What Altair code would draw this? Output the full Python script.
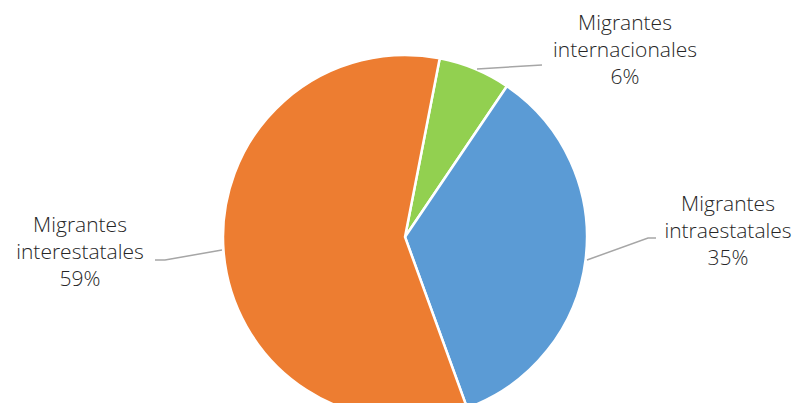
import altair as alt
import pandas as pd

# Data
categories = ["Migrantes internacionales", "Migrantes intraestatales", "Migrantes interestatales"]
values = [6.4, 35.0, 58.6]
labels = ["6%", "35%", "59%"]
colors = ["#92D050", "#5B9BD5", "#ED7D31"]

# Layout constants (chart coordinates)
CX, CY, R = 397, 229, 182
START = 0.192  # radians, clockwise from 12 o'clock

pie_df = pd.DataFrame({"cat": categories, "val": values, "order": [0, 1, 2]})

pie = alt.Chart(pie_df).mark_arc(
    outerRadius=R, stroke="white", strokeWidth=2.5
).encode(
    theta=alt.Theta("val:Q", stack=True, scale=alt.Scale(range=[START, START + 6.283185307])),
    color=alt.Color("cat:N", scale=alt.Scale(domain=categories, range=colors), legend=None),
    order=alt.Order("order:Q"),
    x=alt.value(CX),
    y=alt.value(CY),
)

label_text = [
    "Migrantes\ninternacionales\n" + labels[0],
    "Migrantes\nintraestatales\n" + labels[1],
    "Migrantes\ninterestatales\n" + labels[2],
]
label_x = [617, 720, 72]
label_y = [16, 197, 218]
lab_df = pd.DataFrame({"t": label_text, "x": label_x, "y": label_y})

texts = alt.Chart(lab_df).mark_text(
    font="Open Sans", fontSize=21, fontWeight=300, color="#262626",
    align="center", baseline="middle", lineBreak="\n", lineHeight=27
).encode(
    x=alt.X("x:Q", scale=None),
    y=alt.Y("y:Q", scale=None),
    text="t:N",
)

lead_df = pd.DataFrame({
    "g": ["a", "a", "b", "b", "b", "c", "c", "c"],
    "i": [0, 1, 0, 1, 2, 0, 1, 2],
    "x": [469, 534, 579, 640, 648, 214, 157, 147],
    "y": [61, 57, 252, 230, 230, 242, 252, 252],
})
leaders = alt.Chart(lead_df).mark_line(color="#A6A6A6", strokeWidth=1.5).encode(
    x=alt.X("x:Q", scale=None),
    y=alt.Y("y:Q", scale=None),
    detail="g:N",
    order="i:Q",
)

chart = alt.layer(pie, leaders, texts).properties(
    width=788, height=395, autosize=alt.AutoSizeParams(type="none"), padding=0
).configure_view(stroke=None)

chart.save("out.html", embed_options={"renderer": "svg", "actions": False})
